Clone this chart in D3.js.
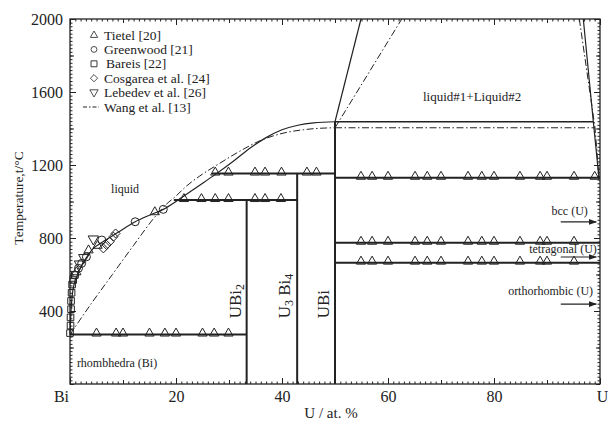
<!DOCTYPE html>
<html>
<head>
<meta charset="utf-8">
<script src="https://cdn.jsdelivr.net/npm/d3@7"></script>
<style>
body { margin: 0; background: #fff; }
svg text { font-family: "Liberation Serif", "Times New Roman", serif !important; fill: #222; }
</style>
</head>
<body>
<div class="chart"></div>
<script>
// data: x = U / at.%, T = temperature / degC

const xTickValues = [0, 20, 40, 60, 80, 100];
const xTickLabels = ['Bi', '20', '40', '60', '80', 'U'];
const yTickValues = [400, 800, 1200, 1600, 2000];

// horizontal invariant lines
const invT    = [271, 1008, 1153, 1130, 774, 665];
const invFrom = [0, 19.6, 26.8, 50, 50, 50];
const invTo   = [33.33, 42.86, 50, 100, 100, 100];

// compounds
const compoundX     = [33.33, 42.86, 50];
const compoundTop   = [1008, 1153, 1437];

// Tietel [20] points sitting on the invariants
const tietel271  = [5.0, 8.7, 10.0, 15.0, 17.9, 20.0, 25.0, 27.2, 29.9];
const tietel1008 = [21.5, 24.8, 27.4, 29.9, 34.9, 36.8, 39.8];
const tietel1153 = [27.4, 29.9, 34.9, 36.8, 39.9, 44.7, 46.5];
const tietel1130 = [54.9, 57.0, 60.0, 65.1, 67.4, 70.0, 75.1, 77.7, 80.0, 84.9, 88.7, 90.0, 95.1, 99.0];
const tietel774  = [54.9, 57.0, 60.0, 65.1, 67.4, 70.0, 75.1, 77.7, 80.0, 84.9, 88.7, 90.0, 95.1];
const tietel665  = [54.9, 57.0, 60.0, 65.1, 67.4, 70.0, 75.1, 77.7, 80.0, 84.9, 88.7, 90.0, 95.1];

// liquidus measurements
const tietelLiq    = [[1.2, 615], [3.5, 735], [5.2, 760], [16.0, 944]];
const greenwood    = [[0.9, 597], [1.6, 634], [2.2, 661], [3.1, 697], [6.0, 789], [12.3, 889], [17.6, 957]];
const bareis       = [[0.0, 279], [0.1, 320], [0.1, 365], [0.2, 410], [0.2, 455], [0.3, 500], [0.4, 545], [0.6, 570], [0.9, 597]];
const cosgarea     = [[6.3, 743], [6.9, 762], [7.5, 780], [8.2, 807], [8.6, 825]];
const lebedev      = [[1.8, 655], [2.6, 690], [4.4, 792]];

// assessed lines (solid)
const liqBiSide = [[0, 271], [0.15, 380], [0.4, 480], [0.8, 550], [1.3, 590], [2.0, 640], [2.8, 679], [4.4, 743],
  [6, 775], [9, 830], [12.3, 889], [15, 925], [17.6, 957], [20.4, 1008], [24, 1080], [27.5, 1150], [31, 1225],
  [34, 1293], [37, 1350], [40, 1393], [43, 1418], [46, 1431], [50, 1437]];
const gapLeft   = [[50, 1437], [54.9, 2000]];
const gapRight  = [[96.85, 2000], [98.74, 1437], [99.8, 1130]];
const monotectic = [[50, 1437], [98.74, 1437]];

// Wang et al. [13] (dash-dot)
const wangLiq   = [[0, 271], [4, 440], [8, 600], [12, 760], [16, 915], [18, 980], [20, 1030], [22, 1085],
  [24.5, 1140], [28, 1205], [32, 1275], [36, 1335], [40, 1373], [44, 1393], [47, 1401], [50, 1404]];
const wangGapLeft  = [[50, 1404], [62.6, 2000]];
const wangGapRight = [[96.1, 2000], [99.06, 1404], [99.8, 1135]];
const wangMonotectic = [[50, 1404], [99.06, 1404]];

//set up SVG
const SVGWIDTH = 608;
const SVGHEIGHT = 426;
const MARGIN = {top: 19, right: 8, bottom: 42, left: 70};
const PW = SVGWIDTH - MARGIN.left - MARGIN.right;
const PH = SVGHEIGHT - MARGIN.top - MARGIN.bottom;
const INK = '#222';
const SERIF = '"Liberation Serif", "Times New Roman", serif';
const DASHDOT = '7,2.5,1.5,2.5';

let svg = d3.select('.chart').append('svg')
  .attr('width', SVGWIDTH)
  .attr('height', SVGHEIGHT)
  .style('font-family', SERIF);

const CHART = svg.append('g')
  .attr('transform', `translate(${MARGIN.left}, ${MARGIN.top})`);

const x = d3.scaleLinear().domain([0, 100]).range([0, PW]);
const y = d3.scaleLinear().domain([0, 2000]).range([PH, 0]);

//ticks, all pointing inward on all four sides
function tickLayer(axis, values, size, tr) {
  CHART.append('g')
    .attr('transform', tr)
    .call(axis.tickValues(values).tickSizeInner(-size).tickSizeOuter(0).tickFormat(''))
    .call(g => g.select('.domain').remove())
    .call(g => g.selectAll('line').attr('stroke', INK));
}
const xMinor = d3.range(0, 101, 1);
const xMid = d3.range(0, 101, 10);
const yMinor = d3.range(0, 2001, 20);
const yMid = d3.range(0, 2001, 200);
tickLayer(d3.axisBottom(x), xMinor, 2.5, `translate(0, ${PH})`);
tickLayer(d3.axisBottom(x), xMid, 4, `translate(0, ${PH})`);
tickLayer(d3.axisTop(x), xMinor, 2.5, 'translate(0, 0)');
tickLayer(d3.axisTop(x), xMid, 4, 'translate(0, 0)');
tickLayer(d3.axisTop(x), xTickValues, 6, 'translate(0, 0)');
tickLayer(d3.axisLeft(y), yMinor, 2.5, 'translate(0, 0)');
tickLayer(d3.axisLeft(y), yMid, 4, 'translate(0, 0)');
tickLayer(d3.axisRight(y), yMinor, 2.5, `translate(${PW}, 0)`);
tickLayer(d3.axisRight(y), yMid, 4, `translate(${PW}, 0)`);
tickLayer(d3.axisRight(y), yTickValues, 6, `translate(${PW}, 0)`);

let bottomAxis = CHART.append('g')
  .attr('transform', `translate(0, ${PH})`)
  .call(d3.axisBottom(x).tickValues(xTickValues).tickSizeInner(-6).tickSizeOuter(0).tickPadding(7)
    .tickFormat((d, i) => xTickLabels[i]));
bottomAxis.attr('font-family', null).attr('font-size', 16);
bottomAxis.select('.domain').remove();
bottomAxis.selectAll('line').attr('stroke', INK);
bottomAxis.selectAll('text').attr('fill', INK)
  .attr('dx', (d, i) => i === 0 ? -9 : (i === xTickValues.length - 1 ? 2 : 0));

let leftAxis = CHART.append('g')
  .call(d3.axisLeft(y).tickValues(yTickValues).tickSizeInner(-6).tickSizeOuter(0).tickPadding(7)
    .tickFormat(d3.format('d')));
leftAxis.attr('font-family', null).attr('font-size', 16);
leftAxis.select('.domain').remove();
leftAxis.selectAll('line').attr('stroke', INK);
leftAxis.selectAll('text').attr('fill', INK);

//frame
CHART.append('rect')
  .attr('width', PW).attr('height', PH)
  .attr('fill', 'none').attr('stroke', INK).attr('stroke-width', 1.3);

//lines
const lineLin = d3.line().x(d => x(d[0])).y(d => y(d[1]));
const lineSmooth = d3.line().x(d => x(d[0])).y(d => y(d[1])).curve(d3.curveMonotoneX);

function drawLine(pts, gen, dash, w) {
  CHART.append('path')
    .attr('d', gen(pts))
    .attr('fill', 'none')
    .attr('stroke', INK)
    .attr('stroke-width', w)
    .attr('stroke-dasharray', dash);
}
drawLine(wangLiq, lineSmooth, DASHDOT, 1);
drawLine(wangGapLeft, lineLin, DASHDOT, 1);
drawLine(wangGapRight, lineLin, DASHDOT, 1);
drawLine(wangMonotectic, lineLin, DASHDOT, 1);
drawLine(liqBiSide, lineSmooth, null, 1.2);
drawLine(gapLeft, lineLin, null, 1.2);
drawLine(gapRight, lineLin, null, 1.2);
drawLine(monotectic, lineLin, null, 1.6);

CHART.selectAll('.inv')
  .data(invT)
  .enter()
  .append('line')
  .attr('class', 'inv')
  .attr('x1', (d, i) => x(invFrom[i]))
  .attr('x2', (d, i) => x(invTo[i]))
  .attr('y1', d => y(d))
  .attr('y2', d => y(d))
  .attr('stroke', INK)
  .attr('stroke-width', 2);

CHART.selectAll('.compound')
  .data(compoundX)
  .enter()
  .append('line')
  .attr('class', 'compound')
  .attr('x1', d => x(d))
  .attr('x2', d => x(d))
  .attr('y1', y(0))
  .attr('y2', (d, i) => y(compoundTop[i]))
  .attr('stroke', INK)
  .attr('stroke-width', 2);

//markers
const SHAPES = {
  tri: 'M0,-6.5L4.6,1.5L-4.6,1.5Z',
  triC: 'M0,-5L4.6,3L-4.6,3Z',
  tridown: 'M-5.2,-3.5L5.2,-3.5L0,5.5Z',
  square: 'M-3.3,-3.3H3.3V3.3H-3.3Z',
  diamond: 'M0,-4.5L4.5,0L0,4.5L-4.5,0Z'
};
function drawMarkers(pts, shape) {
  CHART.append('g').selectAll('path')
    .data(pts)
    .enter()
    .append('path')
    .attr('d', shape === 'circle' ? d3.symbol(d3.symbolCircle, 50)() : SHAPES[shape])
    .attr('transform', d => `translate(${x(d[0])}, ${y(d[1])})`)
    .attr('fill', 'none')
    .attr('stroke', INK)
    .attr('stroke-width', 1);
}
drawMarkers(tietel271.map(v => [v, 271]), 'tri');
drawMarkers(tietel1008.map(v => [v, 1008]), 'tri');
drawMarkers(tietel1153.map(v => [v, 1153]), 'tri');
drawMarkers(tietel1130.map(v => [v, 1130]), 'tri');
drawMarkers(tietel774.map(v => [v, 774]), 'tri');
drawMarkers(tietel665.map(v => [v, 665]), 'tri');
drawMarkers(tietelLiq, 'triC');
drawMarkers(greenwood, 'circle');
drawMarkers(bareis, 'square');
drawMarkers(cosgarea, 'diamond');
drawMarkers(lebedev, 'tridown');

//legend
const legendNames = ['Tietel [20]', 'Greenwood [21]', 'Bareis [22]', 'Cosgarea et al. [24]', 'Lebedev et al. [26]', 'Wang et al. [13]'];
const legendShapes = ['triC', 'circle', 'square', 'diamond', 'tridown', 'line'];
let legend = CHART.append('g').attr('transform', 'translate(24, 16)');
legendNames.forEach(function(name, i) {
  let row = legend.append('g').attr('transform', `translate(0, ${i * 14.4})`);
  if (legendShapes[i] === 'line') {
    row.append('line').attr('x1', -11).attr('x2', 5).attr('y1', 0).attr('y2', 0)
      .attr('stroke', INK).attr('stroke-dasharray', '4,2,1.5,2');
  } else {
    row.append('path')
      .attr('d', legendShapes[i] === 'circle' ? d3.symbol(d3.symbolCircle, 42)() : SHAPES[legendShapes[i]])
      .attr('transform', legendShapes[i] === 'square' ? 'scale(0.9)' : 'scale(0.8)')
      .attr('fill', 'none').attr('stroke', INK);
  }
  row.append('text')
    .attr('x', legendShapes[i] === 'square' ? 12 : 10)
    .attr('y', 4.5)
    .attr('font-size', 13.5)
    .text(name);
});

//region labels
function label(txt, xv, tv, anchor, size) {
  CHART.append('text')
    .attr('x', x(xv)).attr('y', y(tv))
    .attr('text-anchor', anchor)
    .attr('font-size', size)
    .text(txt);
}
label('liquid', 10.4, 1047, 'middle', 12);
label('rhombhedra (Bi)', 1.3, 93, 'start', 12);
label('liquid#1+Liquid#2', 66.6, 1551, 'start', 13);
label('bcc (U)', 97.7, 926, 'end', 12);
label('tetragonal (U)', 99.4, 718, 'end', 12);
label('orthorhombic (U)', 98.7, 488, 'end', 12);

//arrows
svg.append('defs').append('marker')
  .attr('id', 'arr').attr('viewBox', '0 0 10 10').attr('refX', 9).attr('refY', 5)
  .attr('markerWidth', 7).attr('markerHeight', 7).attr('orient', 'auto')
  .append('path').attr('d', 'M0,1.5L10,5L0,8.5Z').attr('fill', INK);
const arrowT = [888, 696, 438];
CHART.selectAll('.arrow')
  .data(arrowT)
  .enter()
  .append('line')
  .attr('x1', x(92.6)).attr('x2', x(99.3))
  .attr('y1', d => y(d)).attr('y2', d => y(d))
  .attr('stroke', INK).attr('stroke-width', 1.2)
  .attr('marker-end', 'url(#arr)');

//compound labels (vertical)
const compoundNames = [['UBi', '2'], ['U', '3', ' Bi', '4'], ['UBi']];
const compoundLabelX = [32.2, 41.6, 48.8];
compoundNames.forEach(function(parts, i) {
  let t = CHART.append('text')
    .attr('transform', `translate(${x(compoundLabelX[i])}, ${y(360)}) rotate(-90)`)
    .attr('font-size', 17);
  parts.forEach(function(p, j) {
    let s = t.append('tspan').text(p);
    if (/^\d$/.test(p)) s.attr('font-size', 12).attr('dy', 3);
    else if (j > 0) s.attr('dy', -3);
  });
});

//axis labels
svg.append('text')
  .attr('x', 331).attr('y', 418)
  .attr('text-anchor', 'middle')
  .attr('font-size', 15)
  .text('U / at. %');

svg.append('text')
  .attr('transform', 'translate(23, 198) rotate(-90)')
  .attr('text-anchor', 'middle')
  .attr('font-size', 13.5)
  .text('Temperature,t/°C');
</script>
</body>
</html>
